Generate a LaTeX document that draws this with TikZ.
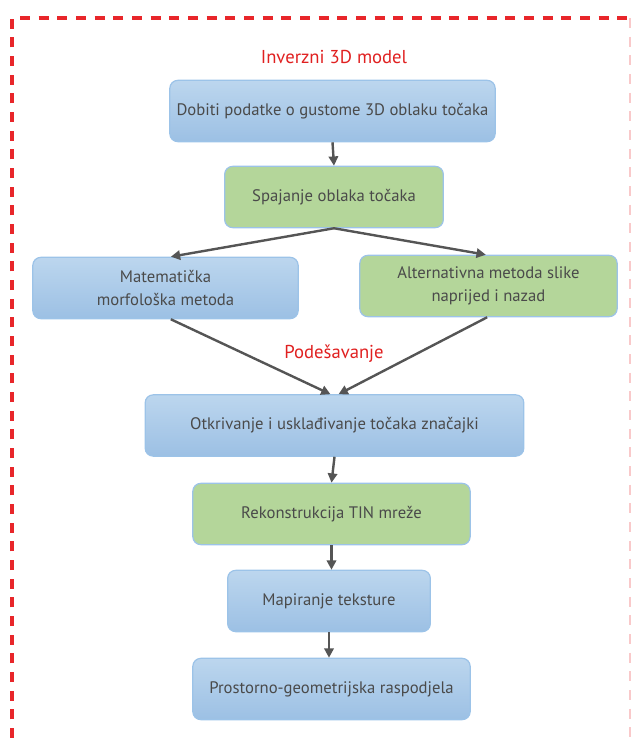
\documentclass[tikz,border=0pt]{standalone}
\usepackage{fontspec}
\setmainfont{PT Sans}
\usetikzlibrary{arrows.meta}
\definecolor{frameRed}{HTML}{E8262A}
\definecolor{labelRed}{HTML}{E02020}
\definecolor{blueTop}{HTML}{BCD6EE}
\definecolor{blueBot}{HTML}{9CC0E4}
\definecolor{greenFill}{HTML}{B4D69A}
\definecolor{edgeBlue}{HTML}{9CC3E8}
\definecolor{txtGray}{HTML}{4A4A4A}
\definecolor{arrGray}{HTML}{555555}

\begin{document}
\begin{tikzpicture}[x=0.75pt,y=-0.75pt,
    box/.style={rectangle,rounded corners=6pt,draw=edgeBlue,line width=0.9pt,
      align=center,text=txtGray,font=\fontsize{12.5}{17}\selectfont,
      minimum height=46pt,inner sep=2pt},
    bbox/.style={box,top color=blueTop,bottom color=blueBot},
    gbox/.style={box,fill=greenFill},
    arr/.style={-{Triangle[length=7pt,width=7pt]},draw=arrGray,line width=1.8pt},
    lbl/.style={text=labelRed,font=\fontsize{14}{16}\selectfont}]
  \useasboundingbox (0,0) rectangle (631,738);
  % dashed frame
  \draw[frameRed,line width=2.3pt,dash pattern=on 7.5pt off 6.5pt] (12,738) -- (12,18) -- (631,18);
  \draw[frameRed!25,line width=2pt,dash pattern=on 7.5pt off 6.5pt] (630,18) -- (630,738);
  % labels
  \node[lbl] (title) at (334,57) {Inverzni 3D model};
  \node[lbl] (adjust) at (334,354) {Podešavanje};
  % boxes
  \node[bbox,minimum width=244pt] (data) at (332.5,111) {Dobiti podatke o gustome 3D oblaku točaka};
  \node[gbox,minimum width=164pt] (merge) at (334,197) {Spajanje oblaka točaka};
  \node[bbox,minimum width=199pt] (morph) at (165.5,288) {Matematička\\morfološka metoda};
  \node[gbox,minimum width=193pt] (alt) at (488.5,286) {Alternativna metoda slike\\naprijed i nazad};
  \node[bbox,minimum width=284pt] (detect) at (334.5,425.5) {Otkrivanje i usklađivanje točaka značajki};
  \node[gbox,minimum width=208pt] (tin) at (331.5,514) {Rekonstrukcija TIN mreže};
  \node[bbox,minimum width=152pt] (texture) at (329,601) {Mapiranje teksture};
  \node[bbox,minimum width=208pt] (spatial) at (331.5,689) {Prostorno-geometrijska raspodjela};
  % arrows
  \draw[arr] (data.south) -- (merge.north);
  \draw[arr] (merge.south) -- ([xshift=4pt]morph.north);
  \draw[arr] (merge.south) -- ([xshift=-2pt]alt.north);
  \draw[arr] ([xshift=4pt]morph.south) -- ([xshift=-3pt]detect.north);
  \draw[arr] ([xshift=-1pt]alt.south) -- ([xshift=3pt]detect.north);
  \draw[arr] (detect.south) -- (tin.north);
  \draw[arr] (tin.south) -- (texture.north -| tin.south);
  \draw[arr] (texture.south) -- (spatial.north -| texture.south);
\end{tikzpicture}
\end{document}
